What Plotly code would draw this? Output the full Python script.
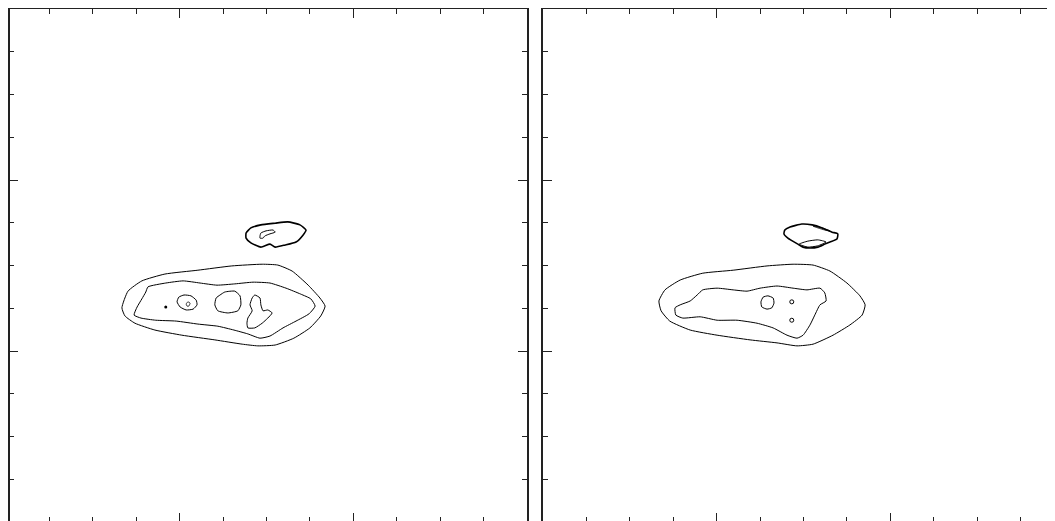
import plotly.graph_objects as go

# ---------------- data (axis units: both axes span 0..12) ----------------
# Left panel contours
L_OUTER_X = [2.67, 2.81, 3.13, 3.66, 4.42, 5.20, 5.90, 6.26, 6.59, 6.96, 7.23, 7.35, 7.25, 7.00, 6.63, 6.20, 5.80, 5.44, 4.81, 4.05, 3.43, 2.97, 2.74, 2.67]
L_OUTER_Y = [5.01, 5.40, 5.64, 5.80, 5.89, 5.99, 6.03, 6.01, 5.87, 5.54, 5.24, 5.05, 4.82, 4.54, 4.30, 4.14, 4.12, 4.16, 4.26, 4.37, 4.49, 4.65, 4.82, 5.01]

L_INNER_X = [3.27, 3.68, 4.08, 4.47, 4.86, 5.27, 5.69, 6.08, 6.45, 6.79, 7.02, 7.12, 6.98, 6.68, 6.38, 6.08, 5.85, 5.57, 5.25, 4.88, 4.42, 3.92, 3.45, 3.11, 2.95, 3.02, 3.13, 3.22, 3.27]
L_INNER_Y = [5.50, 5.59, 5.64, 5.59, 5.54, 5.57, 5.61, 5.59, 5.47, 5.33, 5.22, 5.05, 4.87, 4.70, 4.54, 4.35, 4.30, 4.40, 4.49, 4.58, 4.63, 4.70, 4.72, 4.77, 4.84, 5.03, 5.22, 5.38, 5.50]

L_OVAL_X = [3.94, 3.98, 4.10, 4.26, 4.38, 4.40, 4.31, 4.15, 4.01, 3.94]
L_OVAL_Y = [5.15, 5.26, 5.31, 5.29, 5.19, 5.08, 4.98, 4.96, 5.03, 5.15]

L_TINY_X = [4.15, 4.19, 4.24, 4.21, 4.17, 4.15]
L_TINY_Y = [5.10, 5.15, 5.12, 5.05, 5.05, 5.10]

L_BLOB_X = [5.04, 5.27, 5.39, 5.41, 5.34, 5.11, 4.88, 4.81, 4.84, 4.93, 5.04]
L_BLOB_Y = [5.38, 5.40, 5.29, 5.08, 4.94, 4.89, 4.94, 5.08, 5.24, 5.31, 5.38]

L_IRREG_X = [5.67, 5.73, 5.85, 5.87, 5.92, 6.03, 6.13, 6.03, 5.90, 5.73, 5.57, 5.55, 5.57, 5.67, 5.62, 5.67]
L_IRREG_Y = [5.24, 5.31, 5.24, 5.08, 4.94, 4.96, 4.89, 4.77, 4.65, 4.54, 4.54, 4.65, 4.77, 4.94, 5.08, 5.24]

L_DOT_X = [3.68]
L_DOT_Y = [5.03]

L_SMALL_X = [5.53, 5.64, 5.87, 6.20, 6.49, 6.77, 6.91, 6.84, 6.68, 6.43, 6.20, 6.08, 5.87, 5.64, 5.53, 5.53]
L_SMALL_Y = [6.76, 6.88, 6.95, 6.99, 7.02, 6.95, 6.83, 6.71, 6.55, 6.48, 6.43, 6.50, 6.43, 6.53, 6.64, 6.76]

L_CRESC_X = [5.85, 5.87, 5.99, 6.15, 6.20, 6.08, 5.96, 5.92, 5.85, 5.85]
L_CRESC_Y = [6.69, 6.76, 6.81, 6.83, 6.78, 6.74, 6.69, 6.64, 6.64, 6.69]

# Right panel contours
R_OUTER_X = [2.67, 2.81, 3.16, 3.68, 4.38, 5.16, 5.76, 6.22, 6.61, 7.00, 7.30, 7.42, 7.35, 7.07, 6.68, 6.22, 5.85, 5.39, 4.77, 4.01, 3.39, 2.92, 2.72, 2.67]
R_OUTER_Y = [5.17, 5.43, 5.66, 5.82, 5.89, 5.99, 6.03, 6.01, 5.87, 5.59, 5.29, 5.08, 4.84, 4.61, 4.37, 4.16, 4.12, 4.19, 4.26, 4.37, 4.49, 4.70, 4.94, 5.17]

R_INNER_X = [3.04, 3.16, 3.39, 3.55, 3.68, 4.01, 4.38, 4.70, 5.00, 5.39, 5.76, 6.08, 6.38, 6.49, 6.52, 6.38, 6.26, 6.15, 5.99, 5.85, 5.62, 5.30, 4.93, 4.47, 4.01, 3.62, 3.22, 3.06, 3.04]
R_INNER_Y = [5.01, 5.08, 5.17, 5.31, 5.43, 5.47, 5.43, 5.40, 5.47, 5.52, 5.47, 5.43, 5.47, 5.36, 5.17, 5.08, 4.84, 4.61, 4.37, 4.30, 4.37, 4.54, 4.65, 4.72, 4.72, 4.80, 4.77, 4.84, 5.01]

R_CIRC_X = [5.02, 5.07, 5.18, 5.30, 5.32, 5.27, 5.16, 5.04, 5.02]
R_CIRC_Y = [5.15, 5.26, 5.29, 5.24, 5.12, 5.01, 4.98, 5.03, 5.15]

R_DOTS_X = [5.73, 5.73]
R_DOTS_Y = [5.15, 4.72]

R_SMALL_X = [5.57, 5.69, 5.96, 6.20, 6.43, 6.66, 6.79, 6.77, 6.61, 6.49, 6.33, 6.15, 5.99, 5.87, 5.64, 5.55, 5.57]
R_SMALL_Y = [6.83, 6.90, 6.97, 6.95, 6.88, 6.78, 6.74, 6.62, 6.55, 6.50, 6.43, 6.41, 6.43, 6.50, 6.64, 6.74, 6.83]

R_LOBE_X = [5.90, 6.10, 6.33, 6.52, 6.33, 6.10, 5.90]
R_LOBE_Y = [6.50, 6.57, 6.60, 6.55, 6.46, 6.43, 6.50]

R_SLIVER_X = [6.22, 6.43, 6.61, 6.49, 6.33, 6.22]
R_SLIVER_Y = [6.92, 6.88, 6.81, 6.83, 6.88, 6.92]

# ---------------- layout (page pixels; the page body adds an 8 px offset) ----------------
OFF = 8
FIG_W, FIG_H = 1060, 521
PX_PER_X = 43.42
L_LEFT, L_RIGHT = 6, 527        # full frame of the left panel on the page
L_LEFT_VIS = OFF + 1.5          # left frame drawn where the page allows
R_LEFT, R_RIGHT = 543, 1064
TOP, BOTTOM = 9, 522


def xdom(a, b):
    return [max(0.0, (a - OFF) / FIG_W), min(1.0, (b - OFF) / FIG_W)]


YDOM = [1 - (BOTTOM - OFF) / FIG_H, 1 - (TOP - OFF) / FIG_H]
L_XRANGE = [(L_LEFT_VIS - L_LEFT) / PX_PER_X, 12]
R_XRANGE = [0, 12]
Y_RANGE = [0, 12]

fig = go.Figure()


def add_line(xs, ys, xa, ya, width=1.0):
    fig.add_trace(go.Scatter(x=xs, y=ys, mode="lines", xaxis=xa, yaxis=ya,
                             line=dict(color="black", width=width, shape="spline", smoothing=0.5),
                             hoverinfo="skip"))


for xs, ys, w in [(L_OUTER_X, L_OUTER_Y, 1.0), (L_INNER_X, L_INNER_Y, 1.0), (L_OVAL_X, L_OVAL_Y, 1.0),
                  (L_TINY_X, L_TINY_Y, 0.8), (L_BLOB_X, L_BLOB_Y, 1.0), (L_IRREG_X, L_IRREG_Y, 1.0),
                  (L_SMALL_X, L_SMALL_Y, 1.6), (L_CRESC_X, L_CRESC_Y, 1.0)]:
    add_line(xs, ys, "x", "y", w)

fig.add_trace(go.Scatter(x=L_DOT_X, y=L_DOT_Y, mode="markers", xaxis="x", yaxis="y",
                         marker=dict(color="black", size=3), hoverinfo="skip"))

for xs, ys, w in [(R_OUTER_X, R_OUTER_Y, 1.0), (R_INNER_X, R_INNER_Y, 1.0), (R_CIRC_X, R_CIRC_Y, 1.0),
                  (R_SMALL_X, R_SMALL_Y, 1.6), (R_LOBE_X, R_LOBE_Y, 1.0), (R_SLIVER_X, R_SLIVER_Y, 0.8)]:
    add_line(xs, ys, "x2", "y2", w)

fig.add_trace(go.Scatter(x=R_DOTS_X, y=R_DOTS_Y, mode="markers", xaxis="x2", yaxis="y2",
                         marker=dict(color="black", size=4, symbol="circle-open", line=dict(width=1)),
                         hoverinfo="skip"))


def ax(domain, rng, anchor):
    return dict(domain=domain, range=rng, anchor=anchor, showgrid=False, zeroline=False,
                showline=True, linecolor="#222", linewidth=1.5, mirror="ticks",
                ticks="inside", tick0=0, dtick=4, ticklen=9, tickcolor="#222", tickwidth=1,
                showticklabels=False, fixedrange=True,
                minor=dict(dtick=1, tick0=0, ticks="inside", ticklen=5, tickcolor="#222", tickwidth=1))


fig.update_layout(
    width=FIG_W, height=FIG_H, margin=dict(l=0, r=0, t=0, b=0),
    paper_bgcolor="white", plot_bgcolor="white", showlegend=False,
    xaxis=ax(xdom(L_LEFT_VIS, L_RIGHT), L_XRANGE, "y"),
    yaxis=ax(YDOM, Y_RANGE, "x"),
    xaxis2=ax(xdom(R_LEFT, R_RIGHT), R_XRANGE, "y2"),
    yaxis2=ax(YDOM, Y_RANGE, "x2"),
)
fig.write_html("out.html")
